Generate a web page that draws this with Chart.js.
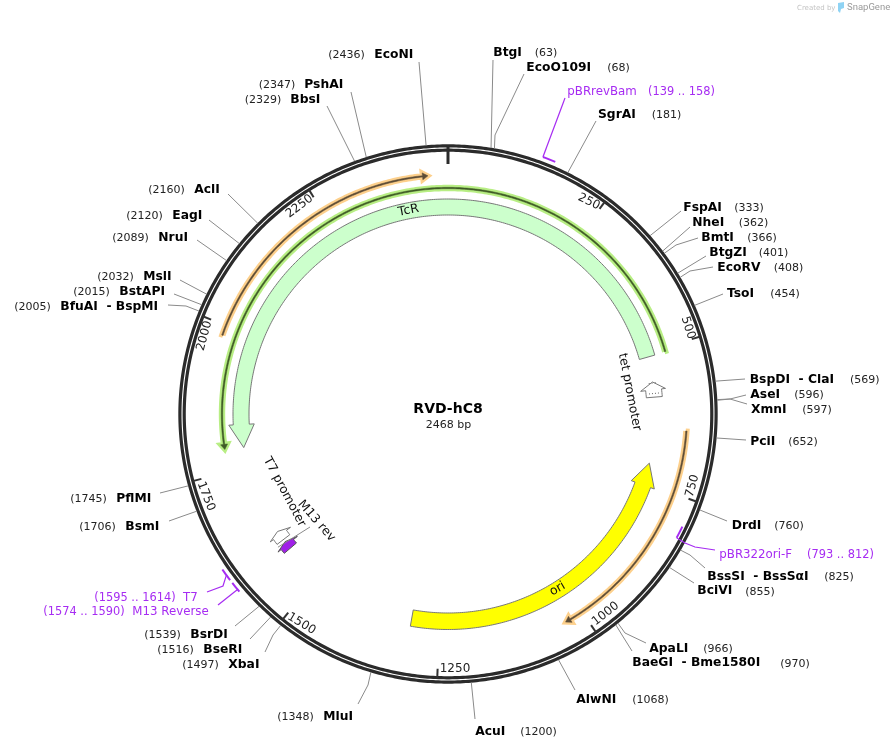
<!DOCTYPE html>
<html>
<head>
<meta charset="utf-8">
<title>RVD-hC8</title>
<script src="https://cdn.jsdelivr.net/npm/chart.js"></script>
<style>
body { margin: 0; background: #fff; }
canvas { display: block; }
</style>
</head>
<body>
<canvas id="myChart" width="895" height="749"></canvas>
<script>
// ---- data (all in bp) ----
const plasmidName = 'RVD-hC8';
const plasmidLength = 2468;
const tickValues = [250, 500, 750, 1000, 1250, 1500, 1750, 2000, 2250];

const siteNames = ['EcoNI', 'PshAI', 'BbsI', 'AclI', 'EagI', 'NruI', 'MslI', 'BstAPI', 'BfuAI  - BspMI',
  'BtgI', 'EcoO109I', 'SgrAI', 'FspAI', 'NheI', 'BmtI', 'BtgZI', 'EcoRV', 'TsoI',
  'BspDI  - ClaI', 'AseI', 'XmnI', 'PciI', 'DrdI', 'BssSI  - BssSαI', 'BciVI', 'ApaLI', 'BaeGI  - Bme1580I',
  'AlwNI', 'AcuI', 'MluI', 'XbaI', 'BseRI', 'BsrDI', 'BsmI', 'PflMI'];
const sitePositions = [2436, 2347, 2329, 2160, 2120, 2089, 2032, 2015, 2005,
  63, 68, 181, 333, 362, 366, 401, 408, 454,
  569, 596, 597, 652, 760, 825, 855, 966, 970,
  1068, 1200, 1348, 1497, 1516, 1539, 1706, 1745];

const primerNames = ['pBRrevBam', 'pBR322ori-F', 'T7', 'M13 Reverse'];
const primerStarts = [139, 793, 1595, 1574];
const primerEnds = [158, 812, 1614, 1590];

const featureNames = ['TcR', 'TcR orf', 'ori', 'ori orf', 'rop orf', 'tet promoter', 'T7 promoter', 'M13 rev'];
const featureTails = [508, 507, 1303, 645, 1983, 585, 1595, 1574];
const featureTips = [1787, 1789, 711, 1032, 2435, 556, 1614, 1590];
const featureStrands = [-1, -1, -1, 1, 1, -1, 1, 1];

// ---- layout and styles ----
const cx = 448, cy = 414;
const ringColor = '#2b2b2b';
const purple = '#a62cf2';
const leaderGray = '#8a8a8a';
const fontName = '"DejaVu Sans"';
const textDrop = 0.8;

// name x, position x, row y, then the leader points going out from the ring
const siteLayout = [
  [374.3, 328.3, 54, [[419, 62]]],
  [304.3, 258.7, 84, [[351, 92]]],
  [290.3, 244.7, 99, [[327, 106]]],
  [194.3, 148.3, 189, [[228, 194]]],
  [172.3, 126.3, 215, [[209, 220]]],
  [158.3, 112.3, 237, [[197, 240]]],
  [143.3, 97.3, 276, [[180, 280]]],
  [119.3, 73.3, 291, [[174, 294]]],
  [60.3, 14.3, 306, [[186, 306], [168, 305]]],
  [493.3, 534.7, 52, [[493, 60]]],
  [526.3, 607.3, 67, [[495, 135], [524, 74]]],
  [598, 651.7, 114, [[596, 121]]],
  [683.3, 734.3, 207, [[681, 211]]],
  [692.3, 738.7, 222, [[690, 227]]],
  [701.3, 747.3, 237, [[676, 245], [698, 238]]],
  [709.3, 758.7, 252, [[706, 256]]],
  [717.3, 773.7, 267, [[690, 271], [713, 267]]],
  [727, 770.3, 293, [[723, 294]]],
  [749.7, 850, 379, [[745, 379]]],
  [750.3, 794.3, 394, [[730, 399], [746, 395]]],
  [751, 802.3, 409, [[730, 399], [747, 404]]],
  [750.3, 788.3, 441, [[746, 440]]],
  [731.7, 774.3, 525, [[727, 521]]],
  [707.3, 824.3, 576, [[690, 555], [705, 568]]],
  [697.3, 745.3, 590.5, [[694, 583]]],
  [649.3, 703.3, 648, [[625, 633], [646, 643]]],
  [632.3, 780.3, 662.5, [[622, 635], [632, 651]]],
  [576.3, 632.3, 699, [[575, 690]]],
  [475.3, 520.3, 731, [[475, 719]]],
  [323.3, 277.3, 716, [[368, 685], [358, 704]]],
  [228.3, 182.3, 664, [[273, 635], [265, 652]]],
  [203.3, 157.3, 649, [[250, 639]]],
  [190.3, 144.3, 634, [[235, 626]]],
  [125.3, 79.3, 526, [[183, 516], [169, 521]]],
  [116.3, 70.3, 498, [[160, 493]]]
];

// name x, position x, row y, bar radius, bp the leader leaves from, leader points
const primerLayout = [
  [567.3, 648, 91, 274, 139, [[565, 98]]],
  [719.3, 807, 554, 260, 812, [[685, 543], [695, 547], [715, 550]]],
  [183, 94.3, 597, 274, 1604, [[223, 586], [207, 592]]],
  [132.3, 43.3, 611, 274, 1578, [[218, 605]]]
];

// radius in, radius out, head in, head out, head length in bp, fill, line colour, line width
const featureStyles = [
  [199, 215, 194, 219.5, 44, '#ccffcc', '#777777', 1],
  [225.3, 226.7, 222.5, 229.5, 9, '#3f5a26', '#b8ee84', 5],
  [199, 215.5, 195, 219.5, 43, '#ffff00', '#777777', 1],
  [238.3, 239.7, 235.5, 242.5, 9, '#5c4c36', '#fdd08c', 5],
  [238.3, 239.7, 235.5, 242.5, 9, '#5c4c36', '#fdd08c', 5],
  [199, 215, 194, 219, 15, '#ffffff', '#777777', 1],
  [199, 215, 194, 219, 8, '#ffffff', '#777777', 1],
  [199, 215, 194, 219, 7, '#a020e8', '#555555', 1]
];

// x, y, rotation in degrees
const tickLabelLayout = [
  [589, 201, 26], [688, 327, 72], [692.5, 485, -75], [605.5, 613, -38], [455, 668, 0],
  [301.5, 623, 31], [206, 495.5, 69], [204.5, 335, -75], [299.5, 205.5, -37]
];
const featureTextLayout = [
  ['TcR', 408.5, 210.5, -11],
  ['ori', 557.5, 589, -30],
  ['tet promoter', 629.5, 392, 79],
  ['T7 promoter', 284.5, 492, 62],
  ['M13 rev', 316.5, 521, 49]
];

// ---- helpers ----
function polar(bp, r) {
  let a = bp / plasmidLength * 2 * Math.PI;
  return { x: cx + r * Math.sin(a), y: cy - r * Math.cos(a) };
}

function arc(from, to, r) {
  let pts = [];
  let steps = Math.max(1, Math.ceil(Math.abs(to - from) / 4));
  for (let i = 0; i <= steps; i++) {
    pts.push(polar(from + (to - from) * i / steps, r));
  }
  return pts;
}

// the long dash keeps chart.js off its fast path, which snaps steep lines to whole pixels
function line(data, color, width, extra) {
  return Object.assign({
    data: data, showLine: true, borderColor: color, borderWidth: width,
    pointRadius: 0, fill: false, tension: 0, clip: false, borderDash: [4000, 1]
  }, extra || {});
}

function featureShape(i) {
  let s = featureStyles[i];
  let tail = featureTails[i], tip = featureTips[i], dir = featureStrands[i];
  if (dir < 0 && tip > tail) tip -= plasmidLength;
  let base = tip - dir * s[4];
  let pts = arc(tail, base, s[0]);
  pts.push(polar(base, s[2]));
  pts.push(polar(tip, (s[0] + s[1]) / 2));
  pts.push(polar(base, s[3]));
  pts = pts.concat(arc(base, tail, s[1]));
  pts.push(pts[0]);
  return pts;
}

// ---- datasets, in paint order ----
let painted = [];

painted.push(line(arc(0, plasmidLength, 268.1), ringColor, 3.2));
painted.push(line(arc(0, plasmidLength, 263.8), ringColor, 3.2));

painted.push(line([polar(0, 268), polar(0, 250)], ringColor, 3));
tickValues.forEach(function (t) {
  painted.push(line([polar(t, 264), polar(t, 255)], '#333', 2));
});

siteNames.forEach(function (name, i) {
  let pts = [polar(sitePositions[i], 269.5)];
  siteLayout[i][3].forEach(function (p) { pts.push({ x: p[0], y: p[1] }); });
  painted.push(line(pts, leaderGray, 1));
});

primerNames.forEach(function (name, i) {
  let l = primerLayout[i];
  painted.push(line(arc(primerStarts[i], primerEnds[i], l[3]), purple, 2));
  let pts = [polar(l[4], l[3])];
  l[5].forEach(function (p) { pts.push({ x: p[0], y: p[1] }); });
  painted.push(line(pts, purple, 1.2));
});

featureNames.forEach(function (name, i) {
  let s = featureStyles[i];
  painted.push(line(featureShape(i), s[6], s[7], { fill: 'shape', backgroundColor: s[5] }));
  // the thin orfs carry their dark line on top of the halo
  if (s[7] > 1) {
    painted.push(line(featureShape(i), s[5], 0.5, { fill: 'shape', backgroundColor: s[5] }));
  }
});

// dotted marks inside the tet promoter, M13 leader
painted.push(line([polar(578, 202), polar(578, 213)], '#666', 1, { borderDash: [1, 2] }));
painted.push(line([polar(558, 203), polar(558, 211)], '#666', 1, { borderDash: [1, 2] }));
painted.push(line([polar(1590, 216), { x: 310, y: 527 }], leaderGray, 1));

// ---- all text goes on top ----
const textPlugin = {
  id: 'mapText',
  afterDatasetsDraw: function (chart) {
    let c = chart.ctx;
    c.save();
    c.textBaseline = 'middle';
    c.textAlign = 'left';

    siteNames.forEach(function (name, i) {
      let l = siteLayout[i];
      c.fillStyle = '#000';
      c.font = 'bold 12.3px ' + fontName;
      c.fillText(name, l[0], l[2] + textDrop);
      c.fillStyle = '#222';
      c.font = '11px ' + fontName;
      c.fillText('(' + sitePositions[i] + ')', l[1], l[2] + textDrop + 0.5);
    });

    primerNames.forEach(function (name, i) {
      let l = primerLayout[i];
      c.fillStyle = purple;
      c.font = '11.8px ' + fontName;
      c.fillText(name, l[0], l[2] + textDrop);
      c.font = '11.4px ' + fontName;
      c.fillText('(' + primerStarts[i] + ' .. ' + primerEnds[i] + ')', l[1], l[2] + textDrop);
    });

    c.textAlign = 'center';
    c.font = '12px ' + fontName;
    c.fillStyle = '#222';
    tickValues.forEach(function (t, i) {
      let l = tickLabelLayout[i];
      c.save();
      c.translate(l[0], l[1] + textDrop);
      c.rotate(l[2] * Math.PI / 180);
      c.fillText(String(t), 0, 0);
      c.restore();
    });

    c.fillStyle = '#111';
    c.font = '12.4px ' + fontName;
    featureTextLayout.forEach(function (l) {
      c.save();
      c.translate(l[1], l[2]);
      c.rotate(l[3] * Math.PI / 180);
      c.fillText(l[0], 0, 0);
      c.restore();
    });

    c.fillStyle = '#000';
    c.font = 'bold 14px ' + fontName;
    c.fillText(plasmidName, 448, 409 + textDrop);
    c.fillStyle = '#222';
    c.font = '11px ' + fontName;
    c.fillText(plasmidLength + ' bp', 448.5, 424 + textDrop);

    // credit in the corner
    c.textAlign = 'left';
    c.fillStyle = '#c4c4c4';
    c.font = '7px ' + fontName;
    c.fillText('Created by', 797, 8);
    c.fillStyle = '#9a9a9a';
    c.font = '9.5px Roboto';
    c.fillText('SnapGene', 847, 8);
    c.fillStyle = '#8fd3f4';
    c.beginPath();
    c.moveTo(838, 3);
    c.lineTo(844, 2);
    c.lineTo(844, 8);
    c.lineTo(841, 9);
    c.lineTo(840, 13);
    c.lineTo(838, 11);
    c.closePath();
    c.fill();
    c.restore();
  }
};

let ctx = document.getElementById('myChart').getContext('2d');
new Chart(ctx, {
  type: 'scatter',
  data: { datasets: painted.reverse() },
  options: {
    responsive: false,
    animation: false,
    devicePixelRatio: 1,
    layout: { padding: 0 },
    plugins: { legend: { display: false }, tooltip: { enabled: false } },
    scales: {
      x: { type: 'linear', min: 0, max: 895, display: false },
      y: { type: 'linear', min: 0, max: 749, reverse: true, display: false }
    }
  },
  plugins: [textPlugin]
});
</script>
</body>
</html>
